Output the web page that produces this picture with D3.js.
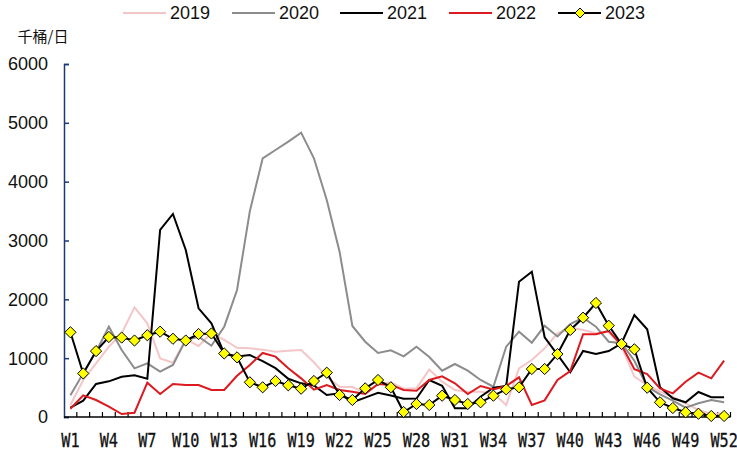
<!DOCTYPE html>
<html>
<head>
<meta charset="utf-8">
<script src="https://cdn.jsdelivr.net/npm/d3@7/dist/d3.min.js"></script>
<style>
  html, body { margin: 0; padding: 0; background: #fff; }
  svg { display: block; }
</style>
</head>
<body>
<div id="chart"></div>
<script>
const weeks = d3.range(1, 53).map(i => "W" + i);
const tickLabels = weeks.filter((d, i) => i % 3 === 0);
const yTicks = [0, 1000, 2000, 3000, 4000, 5000, 6000];
const seriesNames = ["2019", "2020", "2021", "2022", "2023"];

const v2019 = [204, 629, 912, 1195, 1422, 1864, 1592, 997, 923, 1320, 1207, 1422, 1309, 1175, 1167, 1145, 1110, 1127, 1139, 930, 685, 515, 510, 413, 560, 590, 480, 490, 805, 600, 459, 430, 430, 402, 204, 827, 969, 1167, 1422, 1520, 1479, 1422, 1450, 1195, 685, 544, 430, 345, 233, 119, 51, 62];
const v2020 = [369, 745, 1110, 1535, 1139, 827, 912, 770, 884, 1309, 1365, 1212, 1535, 2159, 3500, 4397, 4538, 4680, 4833, 4397, 3689, 2810, 1547, 1280, 1088, 1133, 1030, 1195, 1020, 787, 901, 787, 629, 515, 1195, 1450, 1263, 1550, 1370, 1580, 1688, 1535, 1280, 1253, 957, 515, 386, 277, 158, 233, 289, 250];
const v2021 = [158, 277, 561, 606, 685, 709, 651, 3179, 3451, 2839, 1848, 1593, 1083, 1030, 1052, 950, 830, 650, 572, 535, 374, 402, 250, 330, 410, 365, 310, 315, 629, 530, 148, 148, 345, 498, 527, 2300, 2470, 1355, 1060, 760, 1122, 1071, 1122, 1253, 1734, 1491, 505, 318, 250, 425, 335, 335];
const v2022 = [141, 369, 289, 175, 51, 73, 583, 391, 561, 544, 544, 459, 459, 700, 884, 1088, 1026, 827, 657, 465, 544, 459, 430, 391, 560, 545, 459, 445, 629, 690, 572, 391, 527, 470, 527, 674, 204, 283, 629, 780, 1406, 1406, 1462, 1224, 811, 731, 487, 402, 600, 753, 657, 957];
const v2023 = [1440, 740, 1120, 1360, 1350, 1300, 1390, 1450, 1330, 1300, 1410, 1420, 1080, 1014, 590, 505, 612, 539, 481, 612, 753, 374, 289, 487, 629, 505, 85, 221, 204, 362, 289, 221, 250, 362, 470, 505, 816, 816, 1070, 1479, 1688, 1938, 1552, 1241, 1151, 498, 250, 153, 80, 56, 17, 17];

const colors = ["#F4C6C8", "#8C8C8C", "#000000", "#DC1A1F", "#000000"];
const values = [v2019, v2020, v2021, v2022, v2023];

const W = 737, H = 450;
const svg = d3.select("#chart").append("svg").attr("width", W).attr("height", H);

const x = d3.scaleBand().domain(weeks).range([64, 730.5]).padding(0);
const y = d3.scaleLinear().domain([0, 6000]).range([417, 64]);
const cx = d => x(d) + x.bandwidth() / 2;

// Y axis
const yAxis = d3.axisRight(y).tickValues(yTicks).tickSize(5).tickFormat("");
const gy = svg.append("g").attr("transform", "translate(64,0)").call(yAxis);
gy.selectAll("path,line").attr("stroke", "#1B3A7A").attr("stroke-width", 1.5);
svg.append("g").selectAll("text").data(yTicks).join("text")
  .attr("x", 48).attr("y", d => y(d)).attr("dy", "0.36em")
  .attr("text-anchor", "end")
  .style("font-family", "'Liberation Sans', Arial, sans-serif")
  .style("font-size", "18px").attr("fill", "#111")
  .text(d => d);

// unit label
svg.append("text").attr("x", 43).attr("y", 37).attr("dy", "0.36em")
  .attr("text-anchor", "middle")
  .style("font-family", "'Noto Sans CJK SC', sans-serif")
  .style("font-size", "15px").attr("fill", "#111")
  .text("千桶/日");

// X axis (ticks at band boundaries, pointing up)
const gx = svg.append("g").attr("transform", "translate(0,417)");
gx.append("line").attr("x1", 64).attr("x2", 730.5).attr("stroke", "#000").attr("stroke-width", 1.5);
gx.selectAll("line.tk").data(weeks).join("line").attr("class", "tk")
  .attr("x1", d => x(d) + x.bandwidth()).attr("x2", d => x(d) + x.bandwidth())
  .attr("y1", 0).attr("y2", -5).attr("stroke", "#000").attr("stroke-width", 1.2);
svg.append("g").selectAll("text").data(tickLabels).join("text")
  .attr("transform", d => `translate(${cx(d)},440) scale(0.8,1)`)
  .attr("dy", "0.36em").attr("text-anchor", "middle")
  .style("font-family", "'DejaVu Sans Mono', monospace")
  .style("font-size", "19px").attr("fill", "#111")
  .attr("stroke", "#111").attr("stroke-width", 0.3)
  .text(d => d);

// Lines
const line = d3.line().x((d, i) => cx(weeks[i])).y(d => y(d));
values.forEach((vals, k) => {
  svg.append("path").datum(vals)
    .attr("fill", "none").attr("stroke", colors[k]).attr("stroke-width", 2)
    .attr("stroke-linejoin", "miter")
    .attr("d", line);
});

// Markers for 2023
const diamond = "M0,-5.6L5.6,0L0,5.6L-5.6,0Z";
svg.append("g").selectAll("path").data(v2023).join("path")
  .attr("transform", (d, i) => `translate(${cx(weeks[i])},${y(d)})`)
  .attr("d", diamond).attr("fill", "#FFFF00").attr("stroke", "#000").attr("stroke-width", 1);

// Legend
const legX = [123, 232, 340, 449, 558];
const leg = svg.append("g");
seriesNames.forEach((name, k) => {
  leg.append("line").attr("x1", legX[k]).attr("x2", legX[k] + 43)
    .attr("y1", 13).attr("y2", 13).attr("stroke", colors[k]).attr("stroke-width", 2);
  if (k === 4) {
    leg.append("path").attr("transform", `translate(${legX[k] + 22},13)`)
      .attr("d", "M0,-5L5,0L0,5L-5,0Z").attr("fill", "#FFFF00").attr("stroke", "#000").attr("stroke-width", 1);
  }
  leg.append("text").attr("x", legX[k] + 47).attr("y", 13).attr("dy", "0.36em")
    .style("font-family", "'Liberation Sans', Arial, sans-serif")
    .style("font-size", "18px").attr("fill", "#111").text(name);
});
</script>
</body>
</html>
